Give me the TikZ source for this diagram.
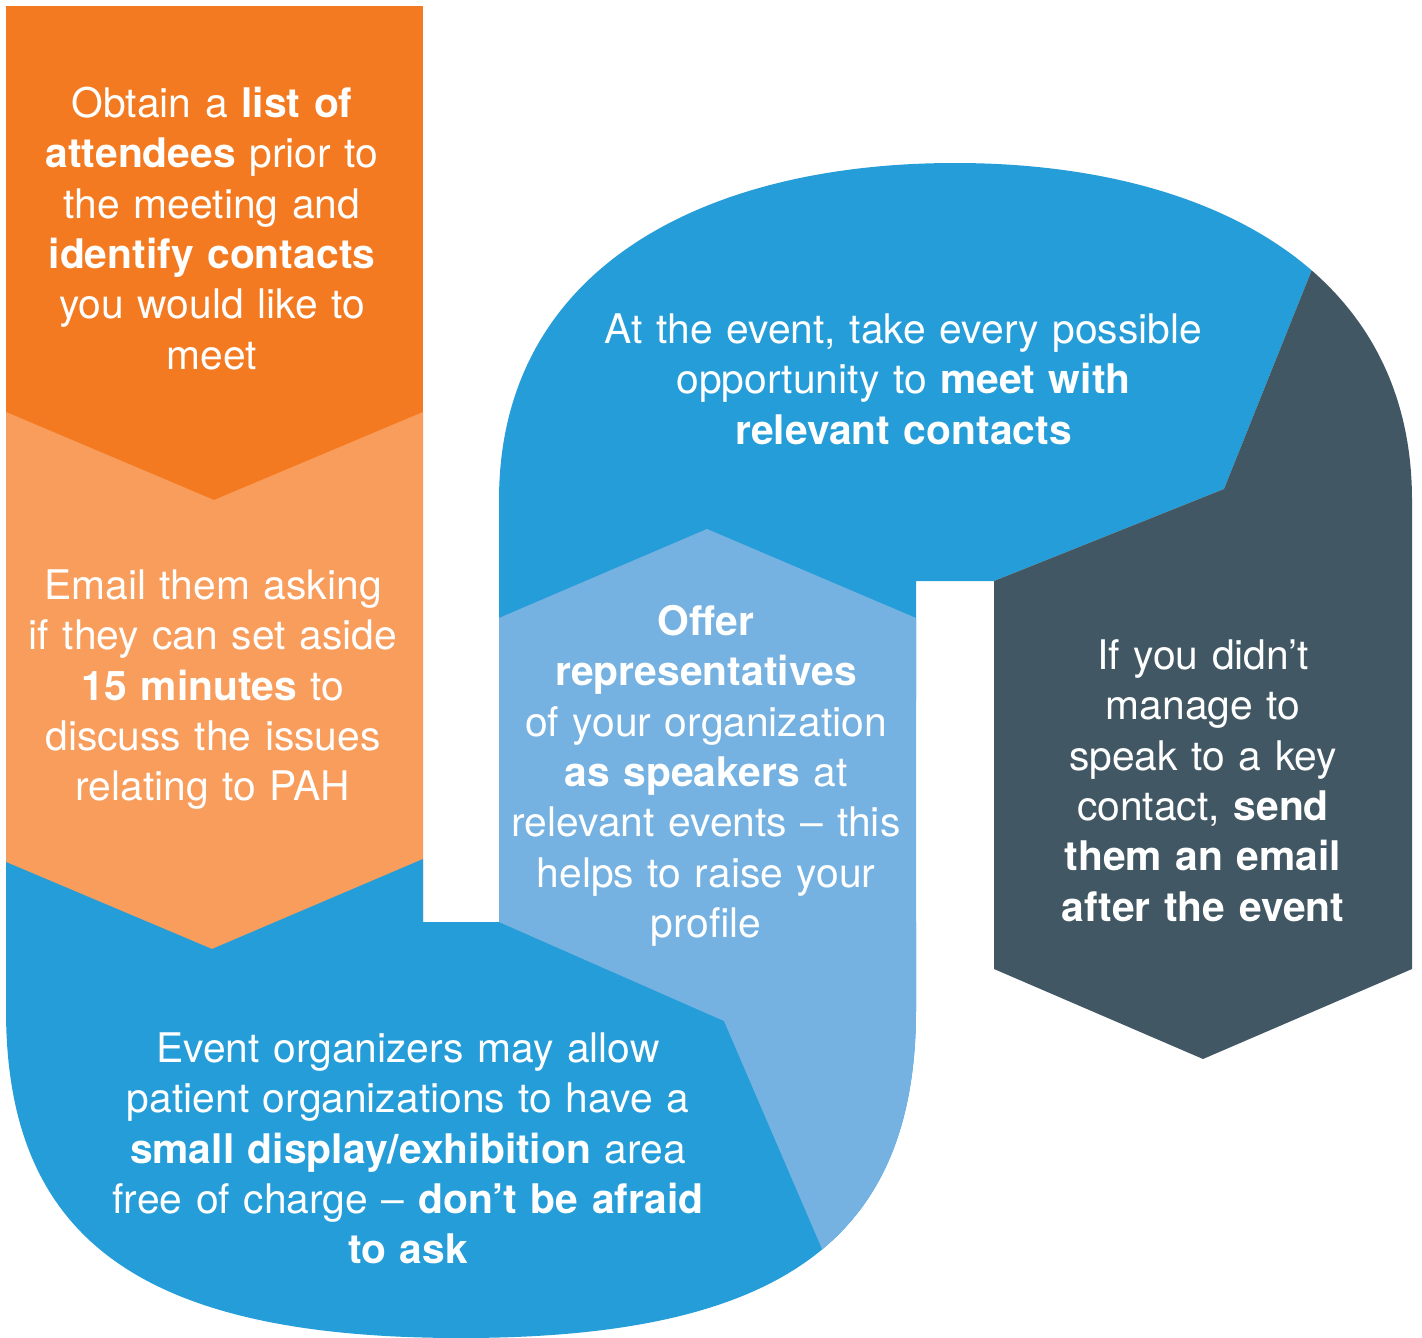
\documentclass[tikz,border=0pt]{standalone}
\usepackage{fontspec}
\setmainfont{TeX Gyre Heros}
\setlength{\parindent}{0pt}
\definecolor{cOrange}{HTML}{F47A21}
\definecolor{cLightOrange}{HTML}{F89D5B}
\definecolor{cBlue}{HTML}{259DD8}
\definecolor{cLightBlue}{HTML}{76B2E1}
\definecolor{cSlate}{HTML}{415864}
\newcommand\topstrut{\rule{0pt}{35pt}}
\begin{document}
\begin{tikzpicture}[x=1pt,y=-1pt,
  txt/.style={text=white, align=center, text width=760pt, inner sep=0pt, anchor=north,
    font=\fontsize{40.8}{50.4}\selectfont}]
\useasboundingbox (0,0) rectangle (1422,1338);

% orange
\fill[cOrange] (6,6) -- (423,6) -- (423,600) -- (6,600) -- cycle;
% light orange
\fill[cLightOrange] (6,412) -- (214,500) -- (423,412) -- (423,1000) -- (6,1000) -- cycle;

% upper arch
\begin{scope}
  \clip (499,1400) -- (499,500) .. controls (499,268) and (704,163) .. (955,163)
        .. controls (1206,163) and (1412,268) .. (1412,500) -- (1412,1400) -- cycle;
  \fill[cBlue] (400,100) -- (1380,100) -- (1224,489) -- (994,581) -- (916,581)
        -- (916,700) -- (400,700) -- cycle;
  \fill[cSlate] (994,581) -- (1224,489) -- (1380,100) -- (1500,100) -- (1500,969)
        -- (1412,969) -- (1203,1059) -- (994,969) -- cycle;
\end{scope}

% bottom U
\begin{scope}
  \clip (6,300) -- (6,1010) .. controls (6,1240) and (142,1338) .. (461,1338)
        .. controls (780,1338) and (916,1240) .. (916,1010) -- (916,300) -- cycle;
  \fill[cBlue] (0,862) -- (6,862) -- (212,949) -- (423,859) -- (423,922) -- (1000,922)
        -- (1000,1400) -- (0,1400) -- cycle;
  \fill[cLightBlue] (499,618) -- (707,529) -- (916,618) -- (1000,618) -- (1000,1400)
        -- (887,1400) -- (724,1021) -- (499,922) -- cycle;
\end{scope}

% texts
\node[txt] (t1) at (212,82) {\topstrut Obtain a \textbf{list of}\\
  \textbf{attendees} prior to\\ the meeting and\\ \textbf{identify contacts}\\
  you would like to\\ meet};
\node[txt] (t2) at (213,564) {\topstrut Email them asking\\ if they can set aside\\
  \textbf{15 minutes} to\\ discuss the issues\\ relating to PAH};
\node[txt] (t3) at (903.5,308) {\topstrut At the event, take every possible\\
  opportunity to \textbf{meet with}\\ \textbf{relevant contacts}};
\node[txt] (t4) at (706,600) {\topstrut\textbf{Offer}\\ \textbf{representatives}\\
  of your organization\\ \textbf{as speakers} at\\ relevant events – this\\
  helps to raise your\\ profile};
\node[txt] (t5) at (1203,634) {\topstrut If you didn’t\\ manage to\\ speak to a key\\
  contact, \textbf{send}\\ \textbf{them an email}\\ \textbf{after the event}};
\node[txt] (t6) at (408,1027) {\topstrut Event organizers may allow\\
  patient organizations to have a\\ \textbf{small display/exhibition} area\\
  free of charge – \textbf{don’t be afraid}\\ \textbf{to ask}};
\end{tikzpicture}
\end{document}
